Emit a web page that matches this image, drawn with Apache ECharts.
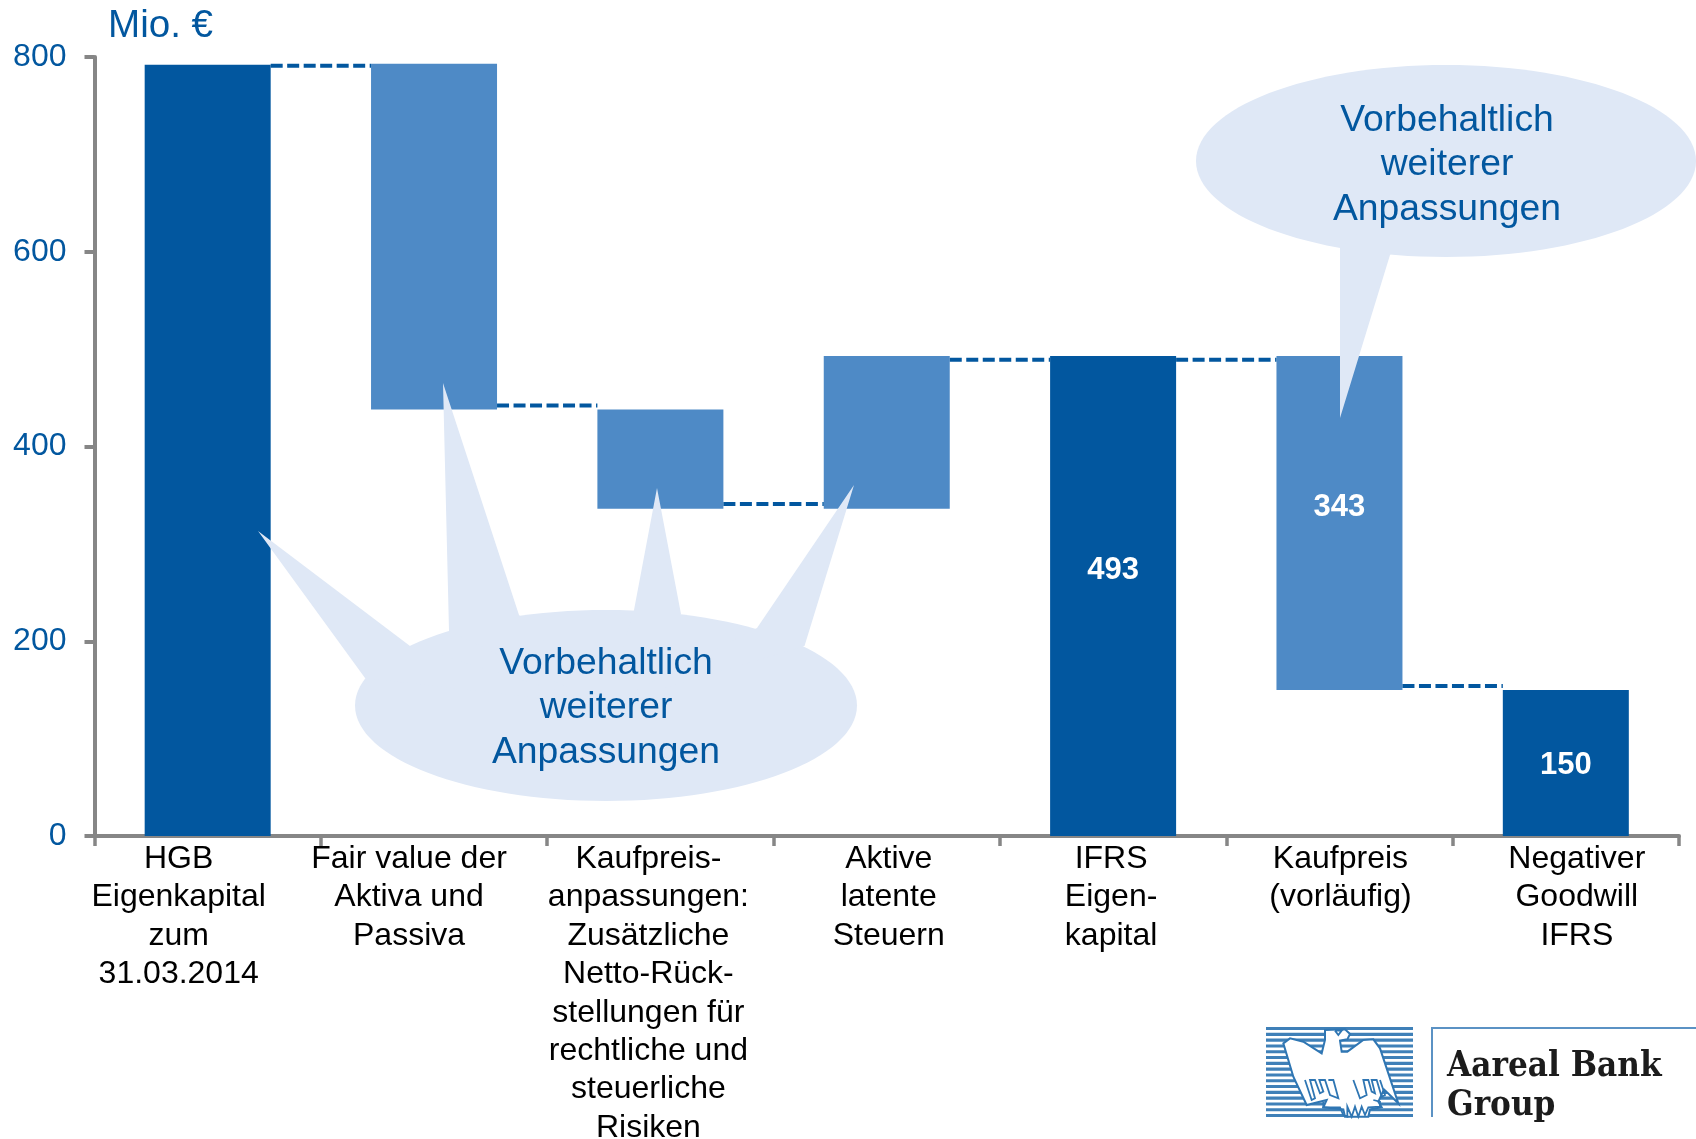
<!DOCTYPE html>
<html><head><meta charset="utf-8">
<style>html,body{margin:0;padding:0;background:#fff}#c{width:1696px;height:1139px}</style>
<script src="https://cdn.jsdelivr.net/npm/echarts@6/dist/echarts.min.js"></script>
</head><body><div id="c"></div>
<script>
const categories = [
  "HGB\nEigenkapital\nzum\n31.03.2014",
  "Fair value der\nAktiva und\nPassiva",
  "Kaufpreis-\nanpassungen:\nZusätzliche\nNetto-Rück-\nstellungen für\nrechtliche und\nsteuerliche\nRisiken",
  "Aktive\nlatente\nSteuern",
  "IFRS\nEigen-\nkapital",
  "Kaufpreis\n(vorläufig)",
  "Negativer\nGoodwill\nIFRS"
];
const yTicks = [0, 200, 400, 600, 800];
const barBase   = [0, 438, 336, 336, 0, 150, 0];
const barHeight = [792, 355, 102, 157, 493, 343, 150];
const isTotal   = [true, false, false, false, true, false, true];
const shownValue = [null, null, null, null, 493, 343, 150];
const connectorLevels = [791, 442, 341, 489, 489, 154];
const calloutText = "Vorbehaltlich\nweiterer\nAnpassungen";

const DARK = "#02579F", MID = "#4E8AC6", PALE = "#DFE8F6", GREY = "#868686", STRIPE = "#3F80B8";
const FONT = "Liberation Sans";

// horizontal shift of each axis label and vertical shift of each value label, as in the source slide
const labelShift = [-29, -25, -12, 2, -2, 1, 11];
const valueShift = [0, 0, 0, 0, -26, -15, 2];

const calloutParts = (el, points) => [
  { type: "ellipse", z: 20, shape: el, style: { fill: PALE } },
  ...points.map(p => ({ type: "polygon", z: 20,
    shape: { points: [p[0], p[1], [el.cx, el.cy], p[2]] }, style: { fill: PALE } }))
];
const calloutLabel = (x, y) => ({ type: "text", z: 21, x, y, style: {
  text: calloutText, fill: DARK, font: "37.3px '" + FONT + "'", lineHeight: 44.5,
  align: "center", verticalAlign: "middle" } });

// logo
const logoStripes = [];
for (let i = 0; i < 16; i++) logoStripes.push({ type: "rect", z: 30,
  shape: { x: 1266, y: 1027 + i * 5.8, width: 147, height: 3.1 }, style: { fill: STRIPE } });
const p = a => a.map(q => [1260 + q[0] / 3, 1020 + q[1] / 3]);
const eagle = p([[195,30],[255,28],[270,42],[262,58],[240,62],[245,95],[262,95],[310,60],[340,58],[360,85],[415,250],[372,208],[355,245],[365,262],[330,268],[325,290],[255,290],[250,268],[190,262],[200,240],[140,255],[100,170],[70,70],[90,55],[130,65],[185,100],[195,60]]);
const claws = [
  [[135,180],[155,240],[165,235],[150,180],[165,180],[180,220],[190,215],[178,180],[195,180],[210,225],[235,235],[220,180],[205,180]],
  [[280,180],[300,235],[320,225],[310,180],[325,180],[335,215],[345,220],[335,180],[350,180],[365,230],[375,225],[360,180]],
  [[190,245],[190,262],[240,262],[250,285],[262,290],[262,260],[275,290],[285,260],[295,290],[305,260],[315,285],[325,262],[360,260],[360,245],[340,240]],
  [[225,32],[245,32],[235,45],[225,32]]
].map(p);
const logo = [
  ...logoStripes,
  { type: "polygon", z: 31, shape: { points: eagle }, style: { fill: "#fff", stroke: "#2F76B3", lineWidth: 2 } },
  ...claws.map(c => ({ type: "polyline", z: 32, shape: { points: c }, style: { fill: "none", stroke: "#2F76B3", lineWidth: 1.8 } })),
  { type: "rect", z: 30, shape: { x: 1431, y: 1027, width: 2, height: 90 }, style: { fill: "#5B92C4" } },
  { type: "rect", z: 30, shape: { x: 1431, y: 1027, width: 265, height: 2 }, style: { fill: "#5B92C4" } },
  { type: "text", z: 30, x: 1447, y: 1067, style: { text: "Aareal Bank", fill: "#1c1c1c",
      font: "bold 34.7px 'DejaVu Serif Condensed','DejaVu Serif'", verticalAlign: "middle" } },
  { type: "text", z: 30, x: 1447, y: 1106, style: { text: "Group", fill: "#1c1c1c",
      font: "bold 34.7px 'DejaVu Serif Condensed','DejaVu Serif'", verticalAlign: "middle" } }
];

const chart = echarts.init(document.getElementById("c"), null, { renderer: "canvas" });
const BAR_W = 126;
chart.setOption({
  animation: false,
  backgroundColor: "#fff",
  title: { text: "Mio. €", left: 103, top: 2, textStyle: { color: DARK, fontFamily: FONT, fontSize: 38.6, fontWeight: "normal" } },
  grid: { left: 94.5, right: 17, top: 57, bottom: 303, outerBoundsMode: "none" },
  xAxis: {
    type: "category",
    data: categories.map((c, i) => ({
      value: c,
      textStyle: { padding: labelShift[i] < 0 ? [0, -2 * labelShift[i], 0, 0] : [0, 0, 0, 2 * labelShift[i]] }
    })),
    axisLine: { lineStyle: { color: GREY, width: 4 } },
    axisTick: { show: true, alignWithLabel: false, length: 10, lineStyle: { color: GREY, width: 3.5 } },
    axisLabel: { interval: 0, margin: 4, color: "#000", fontFamily: FONT, fontSize: 32, lineHeight: 38.4, hideOverlap: false }
  },
  yAxis: {
    type: "value", min: yTicks[0], max: yTicks[yTicks.length - 1], interval: 200,
    splitLine: { show: false },
    axisLine: { show: true, lineStyle: { color: GREY, width: 4 } },
    axisTick: { show: true, length: 10, lineStyle: { color: GREY, width: 4 } },
    axisLabel: { margin: 28, color: DARK, fontFamily: FONT, fontSize: 32 }
  },
  series: [
    { type: "bar", stack: "w", barWidth: BAR_W, silent: true, itemStyle: { color: "transparent" }, data: barBase },
    { type: "bar", stack: "w", barWidth: BAR_W, silent: true,
      data: barHeight.map((v, i) => ({
        value: v,
        itemStyle: { color: isTotal[i] ? DARK : MID },
        label: {
          show: shownValue[i] !== null, position: "inside", offset: [0, valueShift[i]],
          formatter: String(shownValue[i]), color: "#fff", fontFamily: FONT, fontSize: 31, fontWeight: "bold"
        }
      })) },
    { type: "custom", silent: true, z: 5, data: connectorLevels.map((v, i) => [i, v]),
      renderItem: (params, api) => {
        const a = api.coord([api.value(0), api.value(1)]);
        const b = api.coord([api.value(0) + 1, api.value(1)]);
        return { type: "line",
          shape: { x1: a[0] + BAR_W / 2, y1: a[1], x2: b[0] - BAR_W / 2, y2: b[1] },
          style: { stroke: DARK, lineWidth: 4, lineDash: [12, 4.5] } };
      } }
  ],
  graphic: [
    ...calloutParts({ cx: 606, cy: 705.5, rx: 251, ry: 95.5 }, [
      [[258,531],[410,646],[365,678]],
      [[443,383],[449,631],[519,615]],
      [[657,488],[634,610],[681,614]],
      [[854,485],[757,628],[804.5,646]]
    ]),
    calloutLabel(606, 708),
    ...calloutParts({ cx: 1446, cy: 161, rx: 250, ry: 96 }, [
      [[1340,418],[1340,248],[1390,255]]
    ]),
    calloutLabel(1447, 165),
    ...logo
  ]
});
</script></body></html>
